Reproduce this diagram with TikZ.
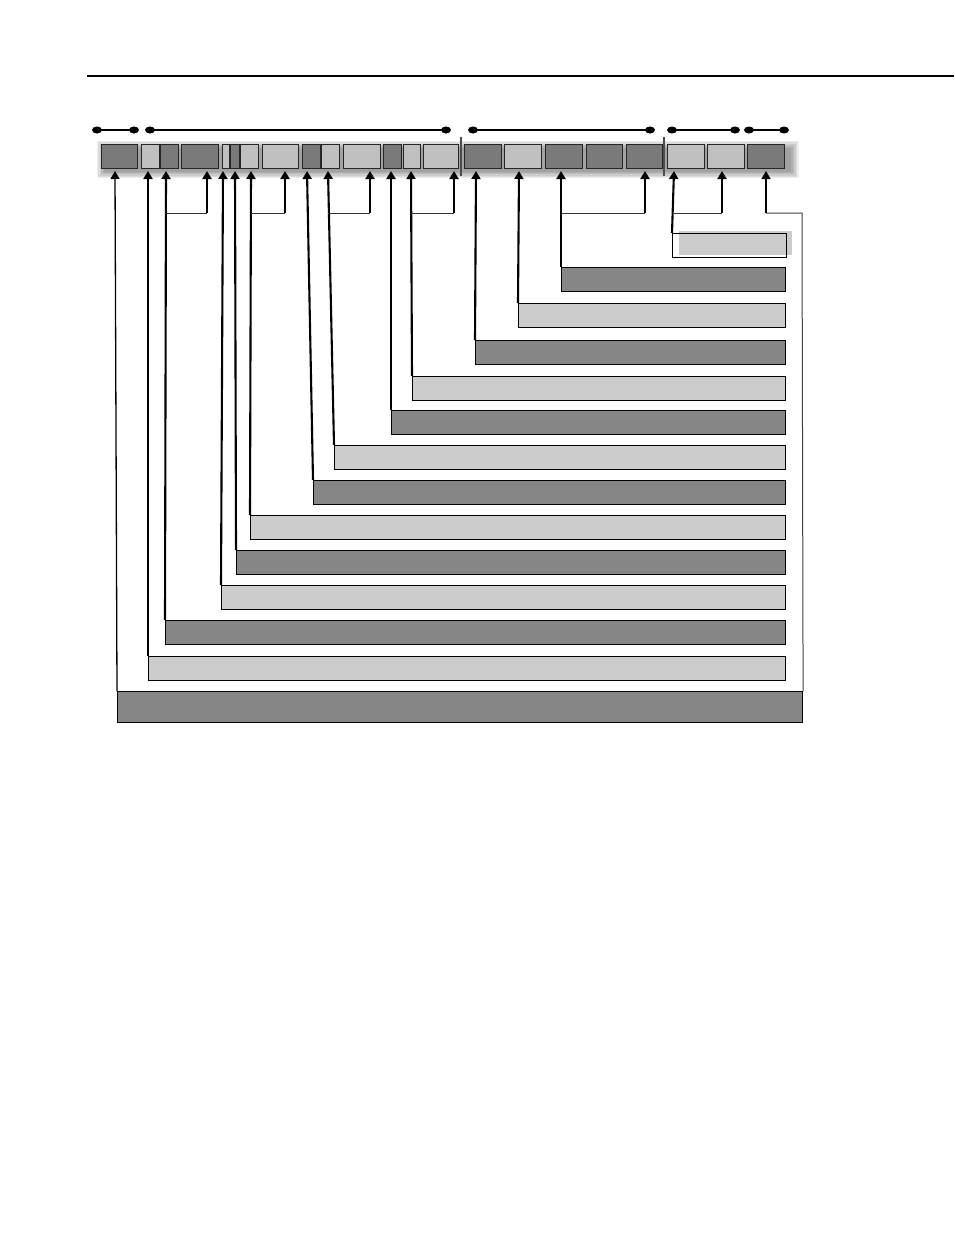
\documentclass[tikz,border=0pt]{standalone}
\usetikzlibrary{arrows.meta,calc}
\definecolor{celldk}{HTML}{7A7A7A}
\definecolor{celllt}{HTML}{C0C0C0}
\definecolor{boxdk}{HTML}{868686}
\definecolor{boxlt}{HTML}{CCCCCC}
\tikzset{
  cellbox/.style={draw=black!85,line width=1.3pt,inner sep=0pt,anchor=north west,minimum height=24pt},
  barbox/.style={draw=black,line width=1.1pt,inner sep=0pt,anchor=north west},
  vconn/.style={line width=2.1pt,-{Triangle[width=9pt,length=8pt]}},
  hconn/.style={line width=1pt,draw=black!80},
  tconn/.style={line width=1pt,draw=black!75},
  span/.style={line width=1.6pt},
}
\begin{document}
\begin{tikzpicture}[x=1pt,y=-1pt]
\useasboundingbox (0,0) rectangle (954,1235);
\fill[white] (0,0) rectangle (954,1235);
% top rule
\draw[line width=1.2pt] (87,76) -- (954,76);
% brackets
\foreach \a/\b in {97/134,150/446,473/650,672/735,749/784}{
  \draw[span] (\a,130) -- (\b,130);
  \fill (\a,130) ellipse [x radius=5pt,y radius=3.5pt];
  \fill (\b,130) ellipse [x radius=5pt,y radius=3.5pt];
}
% soft shadow of the bar
\foreach \i in {0,1,2,3,4,5}{
  \fill[black,opacity=0.07] (104-\i*1.5,148-\i*1.5) rectangle (791+\i*1.5,172+\i*1.2);
}
% cells
\foreach \n/\a/\b/\c in {1/101/137/celldk,2/141/159/celllt,3/160/178/celldk,4/181/218/celldk,
  5/222/229/celllt,6/230/239/celldk,7/240/258/celllt,8/262/298/celllt,9/302/320/celldk,
  10/321/339/celllt,11/343/380/celllt,12/383/401/celldk,13/403/420/celllt,14/423/458/celllt,
  15/464/501/celldk,16/504/541/celllt,17/545/582/celldk,18/586/622/celldk,19/626/662/celldk,
  20/667/704/celllt,21/707/744/celllt,22/747/784/celldk}{
  \pgfmathsetmacro{\w}{\b-\a}
  \node[cellbox,fill=\c,minimum width=\w pt] (c\n) at (\a,144) {};
}
% separators
\draw[line width=1.8pt,black!70] (461,137) -- (461,176);
\draw[line width=1.8pt,black!70] (664,137) -- (664,176);
% arrow tips under the cells
\foreach \n/\x in {1/115,2/148,3/166,4/207,5/223,6/235,7/251,8/285,9/307,10/328,11/370,
  12/391,13/411,14/454,15/476,16/519,17/561,19/645,20/674,21/722,22/766}{
  \coordinate (a\n) at (\x,171);
  \coordinate (j\n) at (\x,213);
}
% label bars
\foreach \n/\x/\y/\c in {2/148/656/boxlt,3/165/620/boxdk,4/221/585/boxlt,5/236/550/boxdk,
  6/250/515/boxlt,7/313/480/boxdk,8/334/445/boxlt,9/391/410/boxdk,10/412/376/boxlt,
  11/475/340/boxdk,12/518/303/boxlt,13/561/267/boxdk}{
  \pgfmathsetmacro{\w}{785-\x}
  \node[barbox,fill=\c,minimum width=\w pt,minimum height=24pt] (b\n) at (\x,\y) {};
}
\node[barbox,fill=boxdk,minimum width=685pt,minimum height=31pt] (b1) at (117,691) {};
\fill[boxlt] (679,231) rectangle (792,255);
\node[barbox,fill=none,minimum width=114pt,minimum height=24pt] (b14) at (672,233) {};
\coordinate (rc) at (802,213);
% connectors
\draw[vconn,line width=1.3pt] (b1.north west) -- (a1);
\draw[vconn,line width=2.8pt] (b2.north west) -- (a2);
\draw[vconn] (b3.north west) -- (a3);
\draw[vconn] (b4.north west) -- (a5);
\draw[vconn] (b5.north west) -- (a6);
\draw[vconn] (b6.north west) -- (a7);
\draw[vconn] (b7.north west) -- (a9);
\draw[vconn] (b8.north west) -- (a10);
\draw[vconn] (b9.north west) -- (a12);
\draw[vconn] (b10.north west) -- (a13);
\draw[vconn] (b11.north west) -- (a15);
\draw[vconn] (b12.north west) -- (a16);
\draw[vconn] (b13.north west) -- (a17);
\draw[vconn] (b14.north west) -- (a20);
% joined pairs
\foreach \p/\q in {3/4,7/8,10/11,13/14,17/19,20/21}{
  \draw[hconn] (j\p) -- (j\q);
  \draw[vconn] (j\q) -- (a\q);
}
% frame of the bottom bar
\draw[tconn] (b1.north east) -- (rc) -- (j22);
\draw[vconn,line width=1.5pt] (j22) -- (a22);
\end{tikzpicture}
\end{document}
